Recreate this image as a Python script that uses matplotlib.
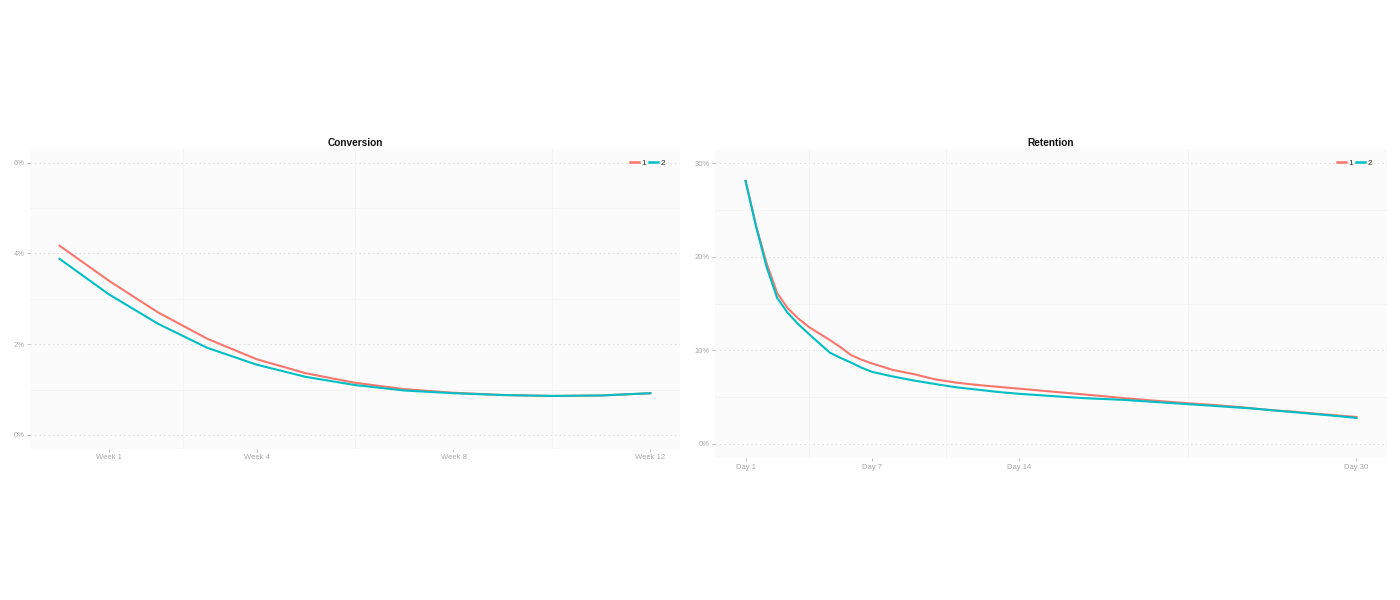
import matplotlib.pyplot as plt
from matplotlib.ticker import FuncFormatter

# Conversion data (weekly, %)
semanas = list(range(0, 13))
conv_1 = [4.17, 3.40, 2.70, 2.12, 1.67, 1.36, 1.15, 1.01, 0.93, 0.88, 0.86, 0.87, 0.92]
conv_2 = [3.88, 3.10, 2.45, 1.92, 1.55, 1.28, 1.10, 0.98, 0.92, 0.88, 0.86, 0.87, 0.92]
semanas_ticks = [1, 4, 8, 12]
semanas_labels = ["Week 1", "Week 4", "Week 8", "Week 12"]

# Retention data (%), half days at the start where the curve bends
dias = [1, 1.5, 2, 2.5, 3, 3.5, 4, 4.5, 5, 5.5, 6, 6.5, 7, 8, 9, 10,
        11, 12, 13, 14, 15, 16, 17, 18, 19, 20,
        21, 22, 23, 24, 25, 26, 27, 28, 29, 30]
ret_1 = [28.1, 23.3, 19.3, 16.1, 14.5, 13.4, 12.5, 11.8, 11.1, 10.35, 9.5, 9.0, 8.6, 7.9, 7.45, 6.9,
         6.55, 6.3, 6.1, 5.9, 5.7, 5.5, 5.3, 5.1, 4.88, 4.7,
         4.52, 4.35, 4.2, 4.02, 3.82, 3.6, 3.45, 3.25, 3.07, 2.88]
ret_2 = [28.1, 23.2, 18.9, 15.6, 14.0, 12.8, 11.75, 10.75, 9.75, 9.2, 8.7, 8.15, 7.7, 7.2, 6.77, 6.4,
         6.05, 5.8, 5.55, 5.35, 5.2, 5.05, 4.9, 4.8, 4.7, 4.55,
         4.4, 4.25, 4.1, 3.95, 3.8, 3.6, 3.4, 3.2, 3.0, 2.78]
dias_ticks = [1, 7, 14, 30]
dias_labels = ["Day 1", "Day 7", "Day 14", "Day 30"]

ROJO = "#F8766D"
CIAN = "#00BFC4"
GRIS = "#b5b5b5"

plt.rcParams['font.family'] = ['Liberation Sans', 'DejaVu Sans']

fig = plt.figure(figsize=(14, 6), dpi=100)
W, H = 1400, 600


def ejes(x0, x1, y0, y1):
    # convierte pixeles a coordenadas de figura
    return fig.add_axes([x0 / W, 1 - y1 / H, (x1 - x0) / W, (y1 - y0) / H])


def estilo(ax, titulo, yticks, yminor, xminor, xticks, xlabels):
    ax.set_facecolor("#fbfbfb")
    for s in ax.spines.values():
        s.set_visible(False)
    ax.set_yticks(yticks)
    ax.yaxis.set_major_formatter(FuncFormatter(lambda v, p: f"{v:.0f}%"))
    ax.set_xticks(xticks)
    ax.set_xticklabels(xlabels)
    ax.tick_params(colors=GRIS, labelcolor="#a8a8a8", labelsize=5.5, length=2.5, width=0.6, pad=1.5)
    for y in yticks:
        ax.axhline(y, color="#e0e0e0", lw=0.8, ls=(0, (1.5, 2.5)), zorder=0)
    for y in yminor:
        ax.axhline(y, color="#f3f3f3", lw=0.6, zorder=0)
    for x in xminor:
        ax.axvline(x, color="#f3f3f3", lw=0.6, zorder=0)
    ax.set_title(titulo, fontsize=7.3, fontweight="bold", color="#111111", pad=2)
    leg = ax.legend(loc="upper right", bbox_to_anchor=(0.985, 0.983), ncol=2, frameon=False,
                    fontsize=6, handlelength=1.1, handletextpad=0.3, columnspacing=0.3,
                    borderaxespad=0.2)
    for t in leg.get_texts():
        t.set_color("#333333")
    for l in leg.get_lines():
        l.set_linewidth(1.8)


# Panel izquierdo: Conversion
ax1 = ejes(30, 680, 149, 448.6)
ax1.plot(semanas, conv_1, color=ROJO, lw=1.5, label="1")
ax1.plot(semanas, conv_2, color=CIAN, lw=1.5, label="2")
ax1.set_xlim(-0.6, 12.6)
ax1.set_ylim(-0.3, 6.3)
estilo(ax1, "Conversion", [0, 2, 4, 6], [1, 3, 5], [2.5, 6, 10], semanas_ticks, semanas_labels)

# Panel derecho: Retention
ax2 = ejes(715, 1387, 149, 458)
ax2.plot(dias, ret_1, color=ROJO, lw=1.5, label="1")
ax2.plot(dias, ret_2, color=CIAN, lw=1.5, label="2")
ax2.set_xlim(-0.45, 31.45)
ax2.set_ylim(-1.5, 31.5)
estilo(ax2, "Retention", [0, 10, 20, 30], [5, 15, 25], [4, 10.5, 22], dias_ticks, dias_labels)

fig.savefig("out.png", dpi=100, facecolor="white")
